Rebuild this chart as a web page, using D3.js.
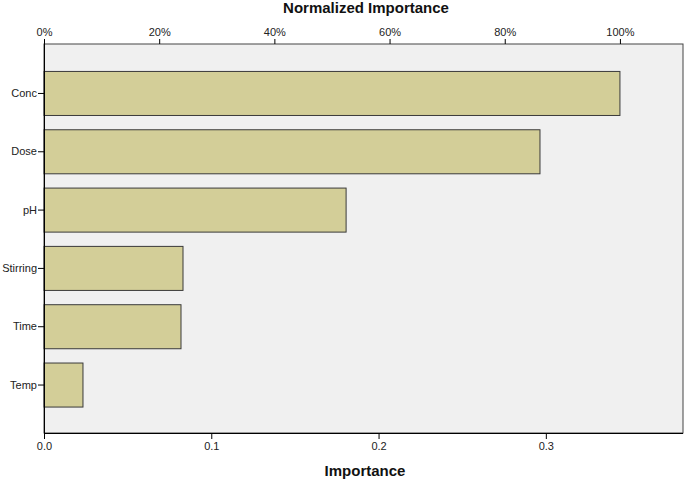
<!DOCTYPE html>
<html><head><meta charset="utf-8">
<script src="https://cdn.jsdelivr.net/npm/d3@7"></script>
<style>body{margin:0;background:#fff}svg{display:block}text{font-family:Arial,"Liberation Sans",sans-serif}</style>
</head><body><svg id="c" width="685" height="480"></svg>
<script>
const categories = ["Conc","Dose","pH","Stirring","Time","Temp"];
const importance = [0.3443, 0.2965, 0.1806, 0.0831, 0.0819, 0.0233];
const bottomTicks = [0.0, 0.1, 0.2, 0.3];
const topTicks = [0, 20, 40, 60, 80, 100];
const maxImp = d3.max(importance);

const svg = d3.select("#c");
const L = 44, R = 683, T = 44, B = 433;
const x = d3.scaleLinear().domain([0, 0.3820]).range([L, R]);
const xPct = d3.scaleLinear().domain([0, 100]).range([L, x(maxImp)]);
const y = d3.scaleBand().domain(categories).range([64.3, 414.2]).paddingInner(0.245).paddingOuter(0.1225);

svg.append("rect").attr("x", L).attr("y", T).attr("width", R - L).attr("height", B - T)
  .attr("fill", "#f0f0f0").attr("stroke", "#444").attr("stroke-width", 1);

svg.selectAll(".bar").data(categories).enter().append("rect")
  .attr("x", L).attr("y", d => y(d)).attr("width", (d,i) => x(importance[i]) - L)
  .attr("height", y.bandwidth()).attr("fill", "#d3ce98").attr("stroke", "#3a3a3a").attr("stroke-width", 1);

function styleAxis(g){
  g.select(".domain").remove();
  g.selectAll(".tick line").attr("stroke", "#000");
  g.selectAll(".tick text").attr("fill", "#222").style("font-size", "11px");
}
svg.append("g").attr("transform", `translate(0,${B})`)
  .call(d3.axisBottom(x).tickValues(bottomTicks).tickFormat(d3.format(".1f")).tickSizeOuter(0).tickSize(6).tickPadding(3))
  .call(styleAxis);
svg.append("g").attr("transform", `translate(0,${T})`)
  .call(d3.axisTop(xPct).tickValues(topTicks).tickFormat(d => d + "%").tickSizeOuter(0).tickSize(5).tickPadding(3))
  .call(styleAxis);
svg.append("g").attr("transform", `translate(${L},0)`)
  .call(d3.axisLeft(y).tickSizeOuter(0).tickSize(6).tickPadding(1))
  .call(styleAxis);
svg.append("line").attr("x1", L + 0.5).attr("x2", L + 0.5).attr("y1", T).attr("y2", B + 0.5).attr("stroke", "#000");
svg.append("line").attr("x1", L).attr("x2", R).attr("y1", B + 0.5).attr("y2", B + 0.5).attr("stroke", "#000");

svg.append("text").attr("x", 366).attr("y", 13).attr("text-anchor", "middle")
  .style("font-size", "15px").style("font-weight", "bold").attr("fill", "#111").text("Normalized Importance");
svg.append("text").attr("x", 365).attr("y", 476).attr("text-anchor", "middle")
  .style("font-size", "15px").style("font-weight", "bold").attr("fill", "#111").text("Importance");
</script></body></html>
